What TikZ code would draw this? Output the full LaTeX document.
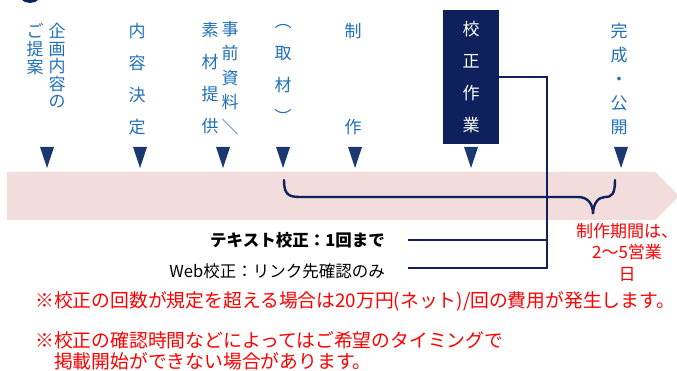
\documentclass[tikz,border=0pt]{standalone}
\usepackage{fontspec}
\setmainfont{Noto Sans CJK JP}
\usetikzlibrary{positioning}

\definecolor{navy}{RGB}{14,33,92}
\definecolor{arrowblue}{RGB}{28,56,112}
\definecolor{stepblue}{RGB}{32,112,184}
\definecolor{bandpink}{RGB}{242,220,220}
\definecolor{notered}{RGB}{255,0,0}

\tikzset{
  stepv/.style={text=stepblue, align=center, inner sep=0pt, anchor=north},
  conn/.style={draw=navy, line width=1.6pt},
  note/.style={text=notered, font=\fontsize{18.8}{21}\selectfont, anchor=west, align=left, inner sep=0pt},
}

\begin{document}
\begin{tikzpicture}[x=1pt,y=-1pt]
  \useasboundingbox (0,0) rectangle (677,371);
  % badge at the top, cut off
  \begin{scope}
    \clip (0,0) rectangle (677,371);
    \fill[navy] (30,-10) circle (13);
  \end{scope}
  % band
  \fill[bandpink] (7,172) -- (655,172) -- (679,196) -- (655,220) -- (7,220) -- cycle;

  % steps
  \node[stepv, font=\fontsize{17}{17.5}\selectfont] (plan) at (57,23) {企\\画\\内\\容\\の};
  \node[stepv, font=\fontsize{17}{18}\selectfont] (plan2) at (35,23) {ご\\提\\案};
  \node[stepv, font=\fontsize{17}{32}\selectfont] (decide) at (137,23) {内\\容\\決\\定};
  \node[stepv, font=\fontsize{17}{24.5}\selectfont] (material) at (230,21) {事\\前\\資\\料\\＼};
  \node[stepv, font=\fontsize{17}{32}\selectfont] (material2) at (210,22) {素\\材\\提\\供};
  \node[stepv, font=\fontsize{17}{32}\selectfont] (interview) at (283,24) {︵\\取\\材\\︶};
  \node[stepv, font=\fontsize{17}{96}\selectfont] (make) at (353,23) {制\\作};
  \node[fill=navy, text=white, align=center, inner sep=0pt,
        minimum width=56pt, minimum height=134pt,
        font=\fontsize{17}{32}\selectfont] (proof) at (471,77) {校\\正\\作\\業};
  \node[stepv, font=\fontsize{17}{24}\selectfont] (publish) at (619,23) {完\\成\\・\\公\\開};

  % arrow marks
  \foreach \x in {47,140,223,283,355,471,621}
    \fill[arrowblue] (\x-7,147) -- (\x+7,147) -- (\x,168) -- cycle;

  % brace over the production period
  \draw[navy, line width=2.4pt, line cap=round]
    (284,180) .. controls (284,194) and (288,197) .. (300,197) -- (578,197)
    .. controls (588,197) and (593,204) .. (593,214)
    .. controls (593,204) and (598,197) .. (605,197)
    .. controls (612,197) and (615,194) .. (615,180);
  \node[text=notered, align=center, inner sep=0pt, anchor=north,
        font=\fontsize{17}{21.5}\selectfont] (period) at (627,223) {制作期間は、\\2～5営業\\日};

  % proofing rules
  \node[anchor=east, inner sep=0pt, font=\fontsize{16.5}{16}\selectfont\bfseries] (textcheck) at (385,240) {テキスト校正：1回まで};
  \node[anchor=east, inner sep=0pt, font=\fontsize{16.5}{16}\selectfont] (webcheck) at (385,271) {Web校正：リンク先確認のみ};
  \coordinate (corner) at (547,268);
  \draw[conn] (proof.east) -| (corner) -- ([xshift=23pt]webcheck.east |- corner);
  \draw[conn] ([xshift=23pt]textcheck.east) -- (textcheck.east -| corner);

  % notes
  \node[note] (note1) at (35,301) {※校正の回数が規定を超える場合は20万円(ネット)/回の費用が発生します。};
  \node[note] (note2) at (35,351) {※校正の確認時間などによってはご希望のタイミングで\\\hspace*{1em}掲載開始ができない場合があります。};
\end{tikzpicture}
\end{document}
